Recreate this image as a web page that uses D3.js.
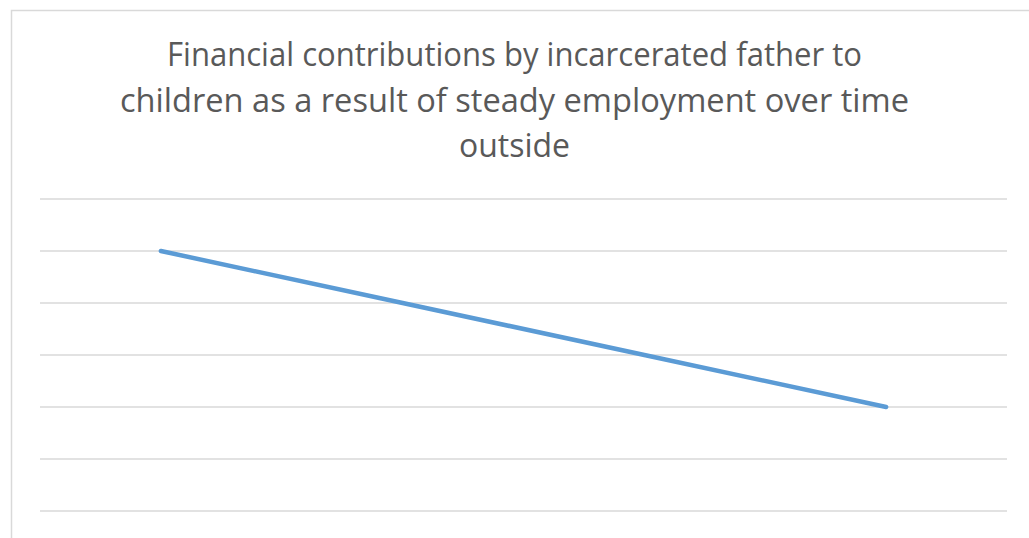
<!DOCTYPE html>
<html><head><meta charset="utf-8">
<script src="https://cdn.jsdelivr.net/npm/d3@7"></script>
<style>body{margin:0;background:#fff;}svg{display:block;}</style>
</head><body>
<svg id="c" width="1029" height="538"></svg>
<script>
const titleLines = ["Financial contributions by incarcerated father to","children as a result of steady employment over time","outside"];
const categories = ["1","2","3","4"];
const values = [5,4,3,2];
const yTicks = [0,1,2,3,4,5,6];

const svg = d3.select("#c");
// chart border
svg.append("path").attr("d","M11.5,538 L11.5,10.5 L1029,10.5").attr("fill","none").attr("stroke","#d9d9d9").attr("stroke-width",1.5);

const x = d3.scaleBand().domain(categories).range([40,1007]);
const y = d3.scaleLinear().domain([0,6]).range([511,199]);

svg.append("g").selectAll("line").data(yTicks).join("line")
  .attr("x1",40).attr("x2",1007).attr("y1",d=>y(d)).attr("y2",d=>y(d))
  .attr("stroke","#d9d9d9").attr("stroke-width",1.5);

const line = d3.line().x((d,i)=>x(categories[i])+x.bandwidth()/2).y(d=>y(d));
svg.append("path").datum(values).attr("d",line).attr("fill","none")
  .attr("stroke","#5b9bd5").attr("stroke-width",4.5).attr("stroke-linecap","round").attr("stroke-linejoin","round");

const tl = [{w:695,b:66},{w:789,b:112},{w:111,b:157}];
svg.append("g").selectAll("text").data(titleLines).join("text")
  .attr("x",514.5).attr("y",(d,i)=>tl[i].b).attr("text-anchor","middle")
  .attr("font-family","Open Sans, sans-serif").attr("font-size",32).attr("fill","#595959")
  .attr("textLength",(d,i)=>tl[i].w).attr("lengthAdjust","spacingAndGlyphs")
  .text(d=>d);
</script>
</body></html>
